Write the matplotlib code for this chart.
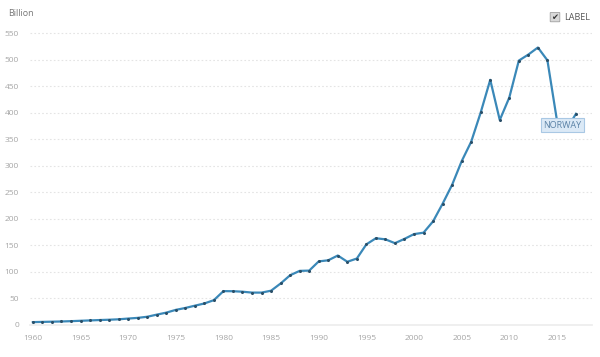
import matplotlib
matplotlib.use("Agg")
import matplotlib.pyplot as plt
from matplotlib.patches import FancyBboxPatch

plt.rcParams["font.family"] = ["Open Sans", "DejaVu Sans"]

years = list(range(1960, 2018))
gdp_billion = [
    5.2, 5.6, 6.0, 6.4, 7.0, 7.7, 8.4, 9.1, 9.7, 10.5,
    11.9, 13.2, 15.3, 19.3, 23.1, 28.3, 31.9, 36.2, 40.4, 46.7,
    63.7, 63.5, 62.6, 60.9, 60.9, 64.5, 78.1, 93.7, 101.9, 102.4,
    119.8, 121.9, 130.9, 119.1, 125.2, 152.0, 163.5, 161.4, 154.2, 162.3,
    171.3, 174.0, 195.4, 228.6, 264.4, 308.9, 345.6, 400.9, 462.5, 386.6,
    429.1, 498.8, 510.2, 523.5, 499.3, 386.0, 369.0, 398.4,
]
x_ticks = [1960, 1965, 1970, 1975, 1980, 1985, 1990, 1995, 2000, 2005, 2010, 2015]
y_ticks = [0, 50, 100, 150, 200, 250, 300, 350, 400, 450, 500, 550]
series_label = "NORWAY"

fig = plt.figure(figsize=(6, 3.57), dpi=100)
ax = fig.add_axes([0.05, 0.09, 0.937, 0.84])

ax.plot(years, gdp_billion, color="#3a88b8", lw=1.6, zorder=3,
        marker="o", ms=1.2, mfc="#2a4f68", mec="#2a4f68")

ax.set_xlim(1959.7, 2018.7)
ax.set_ylim(0, 566)
ax.set_xticks(x_ticks)
ax.set_yticks(y_ticks)
ax.tick_params(axis="both", length=0, labelsize=6, colors="#a6a6a6")
ax.tick_params(axis="x", pad=7)
ax.tick_params(axis="y", pad=8)
for lab in ax.get_yticklabels():
    lab.set_horizontalalignment("right")

for v in y_ticks[1:]:
    ax.axhline(v, color="#e4e4e4", lw=0.8, ls=(0, (1.5, 2)), zorder=1)
for s in ["top", "right", "left"]:
    ax.spines[s].set_visible(False)
ax.spines["bottom"].set_color("#ececec")
ax.spines["bottom"].set_linewidth(1.2)

# series label box
ax.text(2015.6, 377, series_label, fontsize=6.5, color="#5b82a6",
        ha="center", va="center", zorder=4,
        bbox=dict(boxstyle="square,pad=0.3", fc="#dbe9f6", ec="#a9c8e4", lw=0.8))

fig.text(0.013, 0.975, "Billion", fontsize=6.5, color="#777777", va="top")

# checkbox + LABEL
fig.patches.append(FancyBboxPatch((0.918, 0.94), 0.014, 0.024, boxstyle="round,pad=0.001",
                                  transform=fig.transFigure, fc="#d8d8d8", ec="#a0a0a0", lw=0.6))
fig.text(0.925, 0.952, "\u2714", fontsize=6, color="#333333", ha="center", va="center",
         family=["DejaVu Sans"])
fig.text(0.94, 0.952, "LABEL", fontsize=6.5, color="#555555", va="center")

fig.savefig("out.png", dpi=100, facecolor="white")
